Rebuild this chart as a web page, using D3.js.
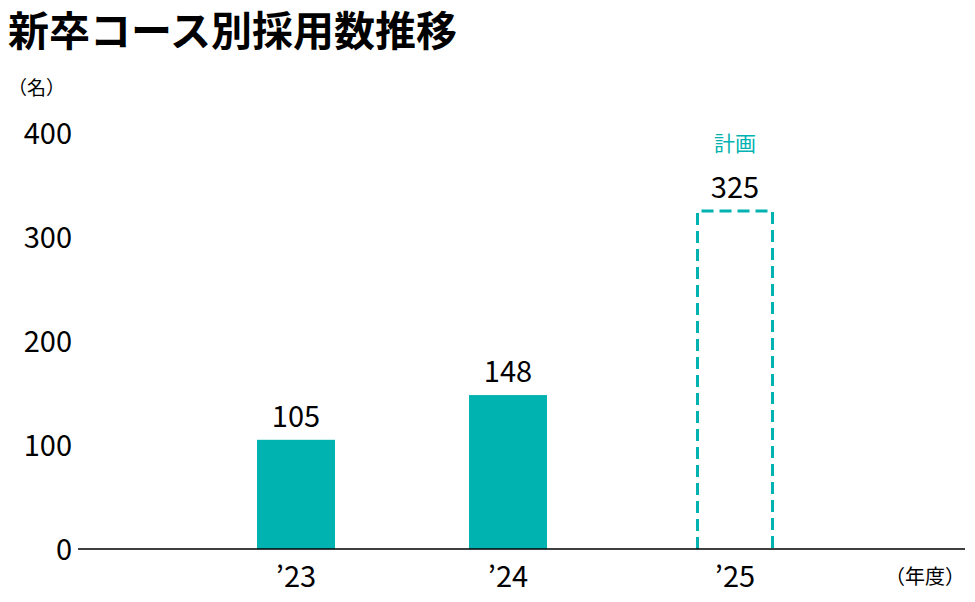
<!DOCTYPE html>
<html><head><meta charset="utf-8">
<script src="https://cdn.jsdelivr.net/npm/d3@7"></script>
<style>body{margin:0;background:#fff}text{font-family:"Noto Sans CJK JP","Noto Sans",sans-serif}</style>
</head><body><svg id="c" width="975" height="602"></svg>
<script>
const categories = ["’23","’24","’25"];
const values = [105,148,325];
const planned = [false,false,true];
const yTicks = [0,100,200,300,400];
const teal = "#00b2b0";
const svg = d3.select("#c");
const x = d3.scaleOrdinal().domain(categories).range([296,508,735]);
const y = d3.scaleLinear().domain([0,400]).range([549,133]);
const bw = 78;
svg.append("text").attr("x",8).attr("y",46).attr("font-size",41).attr("font-weight","bold").text("新卒コース別採用数推移");
svg.append("text").attr("x",8).attr("y",95).attr("font-size",19).text("（名）");
svg.selectAll(".yt").data(yTicks).join("text").attr("x",72).attr("y",d=>y(d)+11)
  .attr("text-anchor","end").attr("font-size",29).attr("font-family","Lato, sans-serif").text(d=>d);
categories.forEach((c,i)=>{
  if(!planned[i]) svg.append("rect").attr("x",x(c)-bw/2).attr("width",bw)
    .attr("y",y(values[i])).attr("height",y(0)-y(values[i])).attr("fill",teal);
  else {
    const l=x(c)-bw/2+1.5, r=x(c)+bw/2-1.5, t=y(values[i]);
    svg.append("path").attr("d",`M${l},${y(0)}V${t}H${r}V${y(0)}`)
      .attr("fill","none").attr("stroke",teal).attr("stroke-width",3).attr("stroke-dasharray","12,6");
    svg.append("text").attr("x",x(c)).attr("y",t-60).attr("text-anchor","middle").attr("font-size",21).attr("fill",teal).text("計画");
  }
  svg.append("text").attr("x",x(c)).attr("y",y(values[i])-13).attr("text-anchor","middle")
    .attr("font-size",29).attr("font-family","Lato, sans-serif").text(values[i]);
});
svg.append("line").attr("x1",78).attr("x2",965).attr("y1",y(0)).attr("y2",y(0)).attr("stroke","#000").attr("stroke-width",1.5);
svg.selectAll(".xl").data(categories).join("text").attr("x",d=>x(d)).attr("y",587)
  .attr("text-anchor","middle").attr("font-size",29).attr("font-family","Lato, sans-serif").text(d=>d);
svg.append("text").attr("x",965).attr("y",584).attr("text-anchor","end").attr("font-size",20).text("（年度）");
</script></body></html>
